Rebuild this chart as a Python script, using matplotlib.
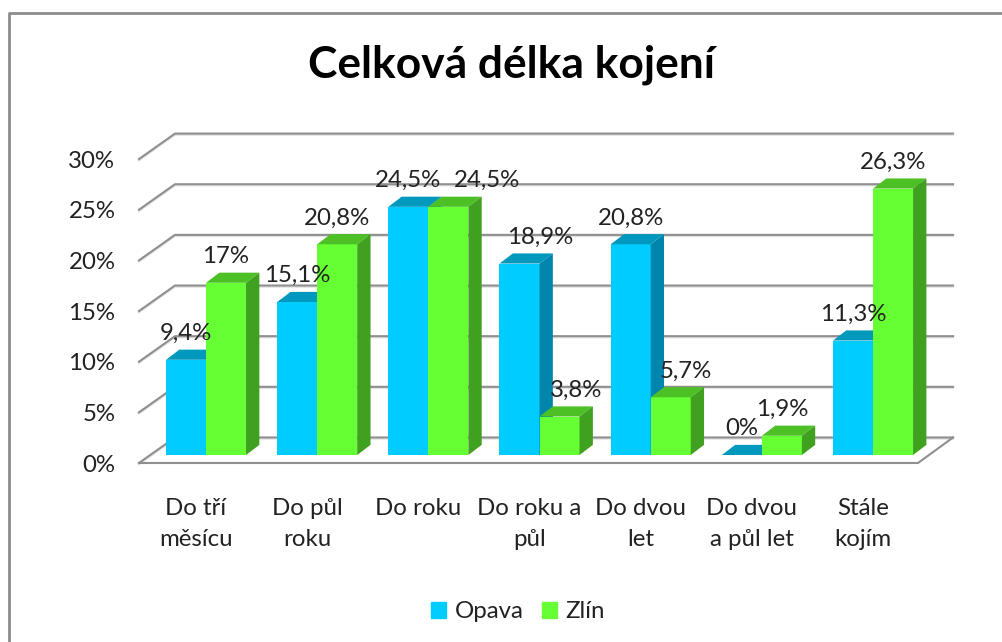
import matplotlib
matplotlib.use('Agg')
import matplotlib.pyplot as plt
from matplotlib.lines import Line2D
from matplotlib.patches import Patch

# Data
CATEGORIES = ['Do tří\nměsícu', 'Do půl\nroku', 'Do roku', 'Do roku a\npůl',
              'Do dvou\nlet', 'Do dvou\na půl let', 'Stále\nkojím']
OPAVA = [9.4, 15.1, 24.5, 18.9, 20.8, 0, 11.3]
ZLIN = [17, 20.8, 24.5, 3.8, 5.7, 1.9, 26.3]
Y_TICKS = [0, 5, 10, 15, 20, 25, 30]

# Fake 3D look, in data units
BAR_W = 0.36
BAR_DX = 0.12
BAR_DY = 1.0
FRONT_Y = -0.79
BACK_Y = 1.73
X_LEFT_FRONT = -0.603
X_LEFT_BACK = -0.279
X_RIGHT_FRONT = 6.405
X_RIGHT_BACK = 6.72

# Подписи, сдвинутые вправо вручную (как в оригинале): индекс -> сдвиг по x
SHIFT_OPAVA = {3: 0.19}
SHIFT_ZLIN = {2: 0.35, 3: 0.15, 4: 0.14}

BLUE = ('#00ccff', '#0098bd', '#0086ad')
GREEN = ('#66ff33', '#4dc026', '#40a020')
GRID = '#8f8f8f'
TEXT = '#222222'

W, H = 1003, 642
FONT = 'Lato'
LABEL_SIZE = 17.3


def draw_bar(ax, x, value, colors):
    """Одна псевдо-3D колонка: передняя грань, верх и бок"""
    front, top, side = colors
    ax.bar(x, value, BAR_W, align='edge', color=front, zorder=3)
    x2 = x + BAR_W
    ax.fill([x, x2, x2 + BAR_DX, x + BAR_DX],
            [value, value, value + BAR_DY, value + BAR_DY],
            color=top, lw=0, zorder=3)
    ax.fill([x2, x2 + BAR_DX, x2 + BAR_DX, x2],
            [0, BAR_DY, value + BAR_DY, value],
            color=side, lw=0, zorder=3)


def draw_grid(ax):
    for v in Y_TICKS:
        xs = [X_LEFT_FRONT, X_LEFT_BACK, X_RIGHT_BACK]
        ys = [v + FRONT_Y, v + BACK_Y, v + BACK_Y]
        ax.plot(xs, [y - 0.12 for y in ys], color='#e2e2e2', lw=1.5, zorder=1,
                clip_on=False)
        ax.plot(xs, ys, color=GRID, lw=1.5, zorder=2, clip_on=False)
    # Пол
    ax.plot([X_LEFT_FRONT, X_RIGHT_FRONT, X_RIGHT_BACK],
            [FRONT_Y, FRONT_Y, BACK_Y], color=GRID, lw=1.5, zorder=2,
            clip_on=False)


def fmt(v):
    return f'{v:g}'.replace('.', ',') + '%'


def main():
    plt.rcParams['font.family'] = [FONT, 'DejaVu Sans']
    fig = plt.figure(figsize=(W / 100, H / 100), dpi=100)
    fig.patch.set_facecolor('white')

    # Оси: x = 0 соответствует 206 px, 111.17 px на категорию; 10.13 px на процент
    left, right, top, bottom = 139, 953, 130, 470
    ax = fig.add_axes([left / W, 1 - bottom / H, (right - left) / W, (bottom - top) / H])
    ax.set_xlim((left - 206) / 111.17, (right - 206) / 111.17)
    ax.set_ylim((455 - bottom) / 10.13, (455 - top) / 10.13)
    ax.patch.set_visible(False)
    for spine in ax.spines.values():
        spine.set_visible(False)

    draw_grid(ax)

    for i, (a, b) in enumerate(zip(OPAVA, ZLIN)):
        draw_bar(ax, i - BAR_W, a, BLUE)
        draw_bar(ax, i, b, GREEN)

    for i, (a, b) in enumerate(zip(OPAVA, ZLIN)):
        ax.text(i - BAR_W / 2 + SHIFT_OPAVA.get(i, 0), a + 2.6, fmt(a), ha='center',
                va='center', fontsize=LABEL_SIZE, color=TEXT, zorder=5)
        ax.text(i + BAR_W / 2 + SHIFT_ZLIN.get(i, 0), b + 2.6, fmt(b), ha='center',
                va='center', fontsize=LABEL_SIZE, color=TEXT, zorder=5)

    ax.set_yticks([v + FRONT_Y for v in Y_TICKS], [f'{v}%' for v in Y_TICKS])
    ax.set_xticks([i - 0.09 for i in range(len(CATEGORIES))], CATEGORIES)
    ax.tick_params(axis='y', length=0, pad=17, labelsize=LABEL_SIZE, labelcolor=TEXT)
    ax.tick_params(axis='x', length=0, pad=20.5, labelsize=LABEL_SIZE, labelcolor=TEXT)
    for label in ax.get_xticklabels():
        label.set_linespacing(1.55)

    fig.suptitle('Celková délka kojení', x=512 / W, y=1 - 65 / H, va='center',
                 fontsize=31.9, fontweight='bold', color='black')

    handles = [Patch(color=BLUE[0], label='Opava'), Patch(color=GREEN[0], label='Zlín')]
    fig.legend(handles=handles, loc='center', bbox_to_anchor=(518 / W, 1 - 612 / H),
               ncol=2, frameon=False, fontsize=LABEL_SIZE, handlelength=0.65, handleheight=0.65,
               handletextpad=0.35, columnspacing=0.75, labelcolor=TEXT)

    # Рамка
    fig.add_artist(Line2D([9.5 / W, 9.5 / W, 1], [0, 1 - 12.5 / H, 1 - 12.5 / H],
                          color='#8c8c8c', lw=2))

    fig.savefig('out.png', dpi=100)


if __name__ == '__main__':
    main()
